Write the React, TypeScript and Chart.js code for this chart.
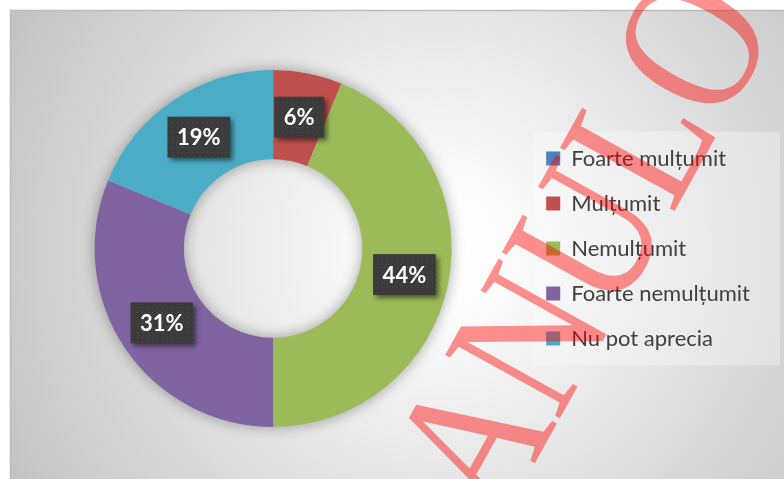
import React, { useEffect, useRef } from 'react';
import { Chart, registerables } from 'chart.js';

Chart.register(...registerables);

const categories = ['Foarte mulțumit', 'Mulțumit', 'Nemulțumit', 'Foarte nemulțumit', 'Nu pot aprecia'];
const shares = [0, 6.25, 43.75, 31.25, 18.75];
const sliceColors = ['#4F81BD', '#C0504D', '#9BBB59', '#8064A2', '#4BACC6'];
const watermarkText = 'ANULO';

function makePattern(ctx: CanvasRenderingContext2D) {
  const c = document.createElement('canvas');
  c.width = 5;
  c.height = 5;
  const p = c.getContext('2d')!;
  p.fillStyle = '#3b3b3b';
  p.fillRect(0, 0, 5, 5);
  p.fillStyle = '#4e4e4e';
  p.fillRect(2, 2, 1, 1);
  return ctx.createPattern(c, 'repeat')!;
}

export default function App() {
  const ref = useRef<HTMLCanvasElement>(null);

  useEffect(() => {
    document.body.style.margin = '0';
    const canvas = ref.current!;

    const decor = {
      id: 'decor',
      beforeDraw(chart: any) {
        const ctx = chart.ctx as CanvasRenderingContext2D;
        const W = chart.width;
        const H = chart.height;
        ctx.save();
        ctx.fillStyle = '#ffffff';
        ctx.fillRect(0, 0, W, H);
        const g = ctx.createRadialGradient(440, 250, 0, 440, 250, 480);
        g.addColorStop(0, '#ffffff');
        g.addColorStop(0.12, '#fdfdfd');
        g.addColorStop(1, '#c4c4c4');
        ctx.fillStyle = g;
        ctx.fillRect(10, 10, W - 10, H - 10);
        ctx.strokeStyle = '#bdbdbd';
        ctx.lineWidth = 1.5;
        ctx.strokeRect(10.5, 10.5, W, H);
        const lg = chart.legend;
        if (lg && lg.legendHitBoxes && lg.legendHitBoxes.length) {
          const hb = lg.legendHitBoxes;
          const x0 = hb[0].left - 13;
          const y0 = hb[0].top - 16;
          const last = hb[hb.length - 1];
          const y1 = last.top + last.height + 16;
          ctx.fillStyle = 'rgba(255,255,255,0.3)';
          ctx.fillRect(x0, y0, 780 - x0, y1 - y0);
        }
        ctx.restore();
      },
      beforeDatasetsDraw(chart: any) {
        const ctx = chart.ctx as CanvasRenderingContext2D;
        const arc = chart.getDatasetMeta(0).data[1];
        if (!arc) return;
        const { x, y, outerRadius, innerRadius } = arc.getProps(['x', 'y', 'outerRadius', 'innerRadius'], true);
        ctx.save();
        ctx.shadowColor = 'rgba(0,0,0,0.35)';
        ctx.shadowBlur = 14;
        ctx.beginPath();
        ctx.arc(x, y, outerRadius, 0, Math.PI * 2);
        ctx.arc(x, y, innerRadius, 0, Math.PI * 2, true);
        ctx.fillStyle = '#cccccc';
        ctx.fill();
        ctx.restore();
      },
      afterDatasetsDraw(chart: any) {
        const ctx = chart.ctx as CanvasRenderingContext2D;
        const meta = chart.getDatasetMeta(0);
        const pat = makePattern(ctx);
        ctx.save();
        ctx.font = 'bold 22px Lato';
        meta.data.forEach((el: any, i: number) => {
          const v = shares[i];
          if (!v) return;
          const txt = Math.round(v) + '%';
          const c = el.getCenterPoint();
          const tw = ctx.measureText(txt).width;
          const bw = tw + 19;
          const bh = 41;
          const bx = c.x - bw / 2;
          const by = c.y - bh / 2;
          ctx.save();
          ctx.shadowColor = 'rgba(0,0,0,0.5)';
          ctx.shadowBlur = 5;
          ctx.shadowOffsetX = 3;
          ctx.shadowOffsetY = 3;
          ctx.fillStyle = pat;
          ctx.fillRect(bx, by, bw, bh);
          ctx.restore();
          ctx.fillStyle = '#ffffff';
          ctx.textAlign = 'center';
          ctx.textBaseline = 'alphabetic';
          ctx.fillText(txt, c.x, c.y + 8);
        });
        ctx.restore();
      },
      afterDraw(chart: any) {
        const ctx = chart.ctx as CanvasRenderingContext2D;
        ctx.save();
        ctx.translate(500, 526);
        ctx.rotate((-61 * Math.PI) / 180);
        ctx.scale(0.82, 1);
        ctx.font = '200px "Liberation Serif"';
        ctx.fillStyle = 'rgba(255,0,0,0.43)';
        ctx.textAlign = 'left';
        ctx.textBaseline = 'alphabetic';
        ctx.fillText(watermarkText, 0, 0);
        ctx.restore();
      },
    };

    const chart = new Chart(canvas, {
      type: 'doughnut',
      data: {
        labels: categories,
        datasets: [
          {
            data: shares,
            backgroundColor: sliceColors,
            borderWidth: 0,
          },
        ],
      },
      options: {
        animation: false,
        responsive: false,
        cutout: '50%',
        layout: { padding: { left: 23, right: 24, top: 70, bottom: 52 } },
        plugins: {
          tooltip: { enabled: false },
          legend: {
            position: 'right',
            align: 'center',
            labels: {
              boxWidth: 14,
              boxHeight: 14,
              padding: 23,
              color: '#404040',
              font: { family: 'Lato', size: 22 },
            },
          },
        },
      },
      plugins: [decor],
    });
    return () => chart.destroy();
  }, []);

  return <canvas ref={ref} width={784} height={479} style={{ display: 'block' }} />;
}
